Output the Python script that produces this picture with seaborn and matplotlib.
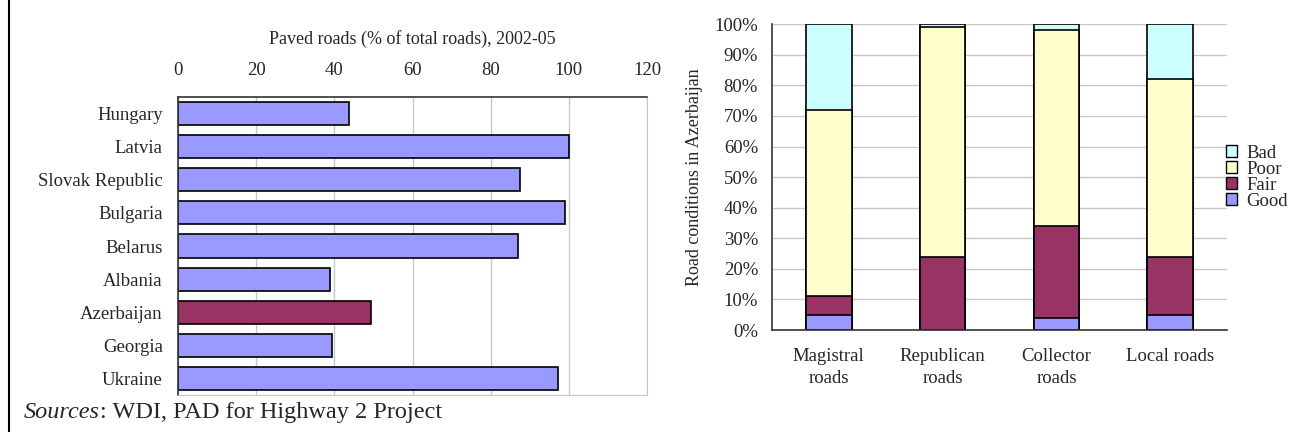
import numpy as np
import pandas as pd
import matplotlib
matplotlib.use("Agg")
import matplotlib.pyplot as plt
import seaborn as sns
from matplotlib.patches import Patch
from matplotlib.lines import Line2D
from matplotlib.ticker import PercentFormatter

# Left panel data: paved roads share
countries = ['Hungary', 'Latvia', 'Slovak Republic', 'Bulgaria', 'Belarus',
             'Albania', 'Azerbaijan', 'Georgia', 'Ukraine']
paved = [43.8, 100.0, 87.4, 99.0, 87.1, 38.9, 49.5, 39.4, 97.2]

# Right panel data: road condition shares (%)
road_types = ['Magistral\nroads', 'Republican\nroads', 'Collector\nroads', 'Local roads']
good = [5, 0, 4, 5]
fair = [6, 24, 30, 19]
poor = [61, 75, 64, 58]
bad = [28, 1, 2, 18]

BLUE = '#9999FF'
PLUM = '#993366'
YELLOW = '#FFFFCC'
CYAN = '#CCFFFF'

sns.set_style("white")
plt.rcParams['font.family'] = ['Liberation Serif', 'DejaVu Serif']
FS = 13.5

fig = plt.figure(figsize=(12.93, 4.32), dpi=100)

# ---- left: paved roads ----
ax1 = fig.add_axes([0.1377, 0.0856, 0.3627, 0.6899])
df1 = pd.DataFrame({'country': countries, 'paved': paved})
pal = {c: (PLUM if c == 'Azerbaijan' else BLUE) for c in countries}
sns.barplot(data=df1, x='paved', y='country', hue='country', palette=pal,
            order=countries, width=0.7, edgecolor='black', linewidth=1.2,
            legend=False, ax=ax1, saturation=1)
ax1.set_xlim(0, 120)
ax1.set_ylim(len(countries) - 0.5, -0.5)
ax1.set_xticks(range(0, 121, 20))
ax1.xaxis.tick_top()
ax1.xaxis.set_label_position('top')
ax1.set_xlabel('Paved roads (% of total roads), 2002-05', fontsize=13, labelpad=13)
ax1.set_ylabel('')
ax1.tick_params(axis='x', length=0, pad=13, labelsize=FS)
ax1.tick_params(axis='y', which='major', length=0, pad=11, labelsize=FS)
ax1.set_yticks(np.arange(-0.5, len(countries), 1), minor=True)
ax1.tick_params(axis='y', which='minor', length=5, direction='out', width=1, color='#333333')
ax1.grid(axis='x', color='#c8c8c8', linewidth=1)
ax1.set_axisbelow(True)
for s in ['bottom', 'right']:
    ax1.spines[s].set_color('#c8c8c8')
for s in ['top', 'left']:
    ax1.spines[s].set_color('#333333')
    ax1.spines[s].set_linewidth(1.2)

# ---- right: road conditions stacked ----
ax2 = fig.add_axes([0.597, 0.236, 0.352, 0.708])
df2 = pd.DataFrame({'type': road_types, 'good': good, 'fair': fair,
                    'poor': poor, 'bad': bad})
df2['c_fair'] = df2['good'] + df2['fair']
df2['c_poor'] = df2['c_fair'] + df2['poor']
df2['c_bad'] = df2['c_poor'] + df2['bad']
# draw cumulative totals from tallest to shortest so they stack visually
layers = [('c_bad', CYAN), ('c_poor', YELLOW), ('c_fair', PLUM), ('good', BLUE)]
for col, color in layers:
    sns.barplot(data=df2, x='type', y=col, color=color, width=0.4,
                edgecolor='black', linewidth=1.2, saturation=1, ax=ax2)
ax2.set_ylim(0, 100)
ax2.set_xlim(-0.5, 3.5)
ax2.set_yticks(range(0, 101, 10))
ax2.yaxis.set_major_formatter(PercentFormatter(decimals=0))
ax2.set_xlabel('')
ax2.set_ylabel('Road conditions in Azerbaijan', fontsize=13, labelpad=8)
ax2.tick_params(axis='y', length=4, direction='out', width=1, color='#333333', labelsize=FS, pad=6)
ax2.tick_params(axis='x', which='major', length=0, pad=13, labelsize=FS)
for lbl in ax2.get_xticklabels():
    lbl.set_linespacing(1.35)
ax2.set_xticks(np.arange(-0.5, 4, 1), minor=True)
ax2.tick_params(axis='x', which='minor', length=5, direction='out', width=1, color='#333333')
ax2.grid(axis='y', color='#c8c8c8', linewidth=1)
ax2.set_axisbelow(True)
for s in ['top', 'right']:
    ax2.spines[s].set_visible(False)
for s in ['bottom', 'left']:
    ax2.spines[s].set_color('#333333')
    ax2.spines[s].set_linewidth(1.2)

handles = [Patch(facecolor=c, edgecolor='black', label=l)
           for l, c in [('Bad', CYAN), ('Poor', YELLOW), ('Fair', PLUM), ('Good', BLUE)]]
fig.legend(handles=handles, loc='center left', bbox_to_anchor=(0.941, 0.59),
           frameon=False, fontsize=FS, handlelength=0.6, handleheight=0.6,
           handletextpad=0.5, labelspacing=-0.05, borderpad=0)

# left frame line and source note
fig.add_artist(Line2D([0.007, 0.007], [0, 1], color='black', linewidth=1.5))
src = fig.text(0.0185, 0.044, 'Sources', fontsize=17.5, va='center', ha='left', style='italic')
fig.canvas.draw()
x_end = src.get_window_extent().x1 / fig.bbox.width
fig.text(x_end, 0.044, ': WDI, PAD for Highway 2 Project', fontsize=17.5, va='center', ha='left')

fig.savefig('out.png', dpi=100)
